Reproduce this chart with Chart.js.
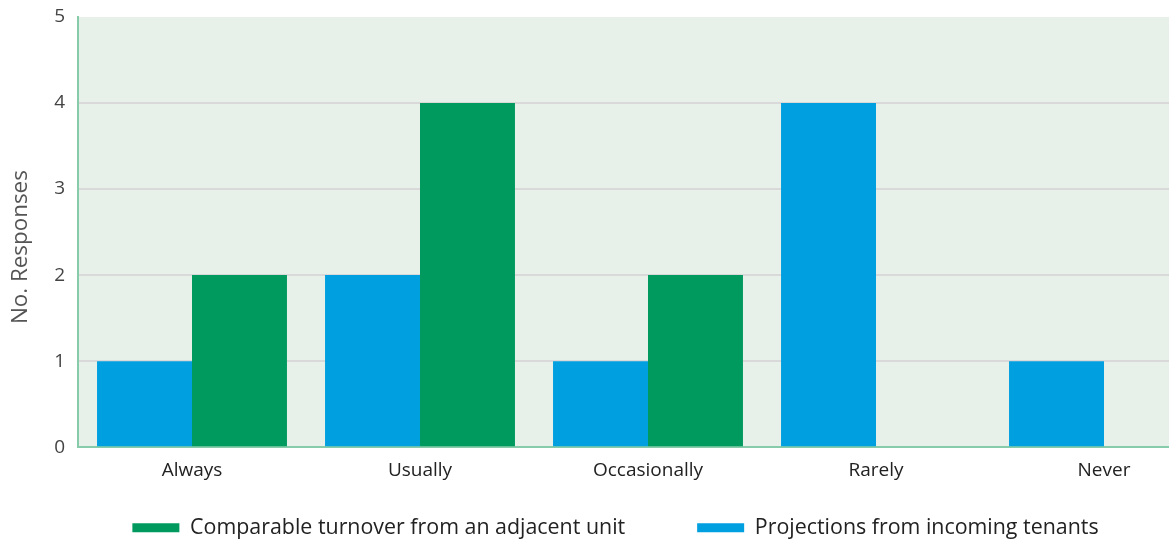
<!DOCTYPE html>
<html>
<head>
<meta charset="utf-8">
<script src="https://cdn.jsdelivr.net/npm/chart.js@4/dist/chart.umd.min.js"></script>
<style>
  html, body { margin: 0; padding: 0; background: #fff; overflow: hidden; }
  #wrap { width: 1169px; height: 540px; overflow: hidden; position: relative; }
  #box { width: 1232px; height: 540px; position: absolute; left: 0; top: 0; }
</style>
</head>
<body>
<div id="wrap"><div id="box"><canvas id="c"></canvas></div></div>
<script>
const categories = ['Always', 'Usually', 'Occasionally', 'Rarely', 'Never'];
const projectionsIncoming = [1, 2, 1, 4, 1];
const comparableAdjacent = [2, 4, 2, 0, 0];
const yTicks = [0, 1, 2, 3, 4, 5];

const FONT = "'Open Sans', 'Noto Sans', sans-serif";
const BLUE = '#009fe0';
const GREEN = '#009a5f';
const AXIS_GREEN = '#86ccaa';

// legend row: wide gap between items, but a compact band vertically
const LEGEND_ROW_HEIGHT = 46;
const LEGEND_ROW_OFFSET = 23;
const LEGEND_SHIFT_X = 6.5;
// the axis title sits a little below the middle of the value axis
const Y_TITLE_SHIFT = 15;
// room kept above the top value tick
const Y_TOP_ROOM = 17;

// fills the plotting area with a pale green wash
const plotBackground = {
  id: 'plotBackground',
  beforeDraw(chart) {
    const { ctx, chartArea: a } = chart;
    ctx.save();
    ctx.fillStyle = '#e7f1ea';
    ctx.fillRect(a.left, a.top, a.right - a.left, a.bottom - a.top);
    ctx.restore();
  }
};

// decouples the legend's horizontal item spacing from its vertical size
const legendRow = {
  id: 'legendRow',
  beforeLayout(chart) {
    const lg = chart.legend;
    if (!lg || lg._rowPatched) return;
    lg._rowPatched = true;
    const fit = lg.fit;
    lg.fit = function () {
      fit.call(this);
      this.height = LEGEND_ROW_HEIGHT;
      this.bottom = this.top + this.height;
    };
    const draw = lg._draw;
    lg._draw = function () {
      const { top, left, right } = this;
      this.top = top + LEGEND_ROW_OFFSET - this.options.labels.padding;
      this.left = left + LEGEND_SHIFT_X;
      this.right = right + LEGEND_SHIFT_X;
      draw.call(this);
      this.top = top;
      this.left = left;
      this.right = right;
    };
  }
};

new Chart(document.getElementById('c'), {
  type: 'bar',
  data: {
    labels: categories,
    datasets: [
      { label: 'Projections from incoming tenants', data: projectionsIncoming, backgroundColor: BLUE },
      { label: 'Comparable turnover from an adjacent unit', data: comparableAdjacent, backgroundColor: GREEN }
    ]
  },
  options: {
    responsive: true,
    maintainAspectRatio: false,
    animation: false,
    layout: { padding: { top: 0, right: 14, left: 0, bottom: 0 } },
    datasets: { bar: { categoryPercentage: 0.833, barPercentage: 1.0 } },
    plugins: {
      legend: {
        position: 'bottom',
        reverse: true,
        labels: {
          boxWidth: 47,
          boxHeight: 9,
          padding: 72,
          color: '#222',
          font: { family: FONT, size: 21.4 }
        }
      },
      tooltip: { enabled: false }
    },
    scales: {
      x: {
        grid: { display: false, drawTicks: false },
        border: { color: AXIS_GREEN, width: 2 },
        ticks: { color: '#222', padding: 12, font: { family: FONT, size: 19 } }
      },
      y: {
        min: 0,
        max: 5,
        afterBuildTicks(scale) { scale.ticks = yTicks.map(v => ({ value: v })); },
        afterFit(scale) {
          scale.width = 78;
          scale.paddingTop = Y_TOP_ROOM;
        },
        afterUpdate(scale) {
          if (scale._titlePatched) return;
          scale._titlePatched = true;
          const drawTitle = scale.drawTitle;
          scale.drawTitle = function () {
            const { top, bottom } = this;
            this.top = top + Y_TITLE_SHIFT;
            this.bottom = bottom + Y_TITLE_SHIFT;
            drawTitle.call(this);
            this.top = top;
            this.bottom = bottom;
          };
        },
        grid: {
          drawTicks: false,
          lineWidth: 2,
          color: ctx => (ctx.tick && ctx.tick.value === 5) ? 'rgba(0,0,0,0)' : '#d9d9d9'
        },
        border: { color: AXIS_GREEN, width: 2 },
        ticks: { color: '#444', padding: 13, font: { family: FONT, size: 19 } },
        title: {
          display: true,
          text: 'No. Responses',
          color: '#555',
          padding: { top: 7, bottom: 0 },
          font: { family: FONT, size: 22.4 }
        }
      }
    }
  },
  plugins: [plotBackground, legendRow]
});
</script>
</body>
</html>
